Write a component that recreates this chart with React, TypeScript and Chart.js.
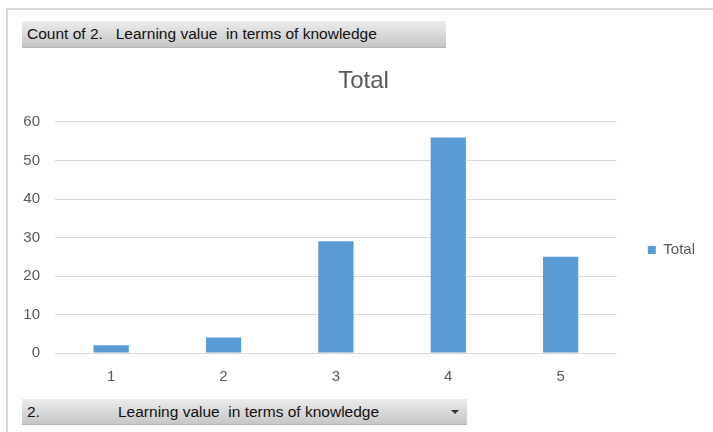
import React, { useEffect, useRef } from "react";
import { Chart, registerables } from "chart.js";

Chart.register(...registerables);

const categories: string[] = ["1", "2", "3", "4", "5"];
const totals: number[] = [2, 4, 29, 56, 25];
const seriesLabel = "Total";
const chartTitle = "Total";
const yTicks: number[] = [0, 10, 20, 30, 40, 50, 60];
const valueFieldLabel = "Count of 2.   Learning value  in terms of knowledge";
const axisFieldPrefix = "2.";
const axisFieldLabel = "Learning value  in terms of knowledge";

const FONT = "'Liberation Sans', Arial, sans-serif";
const GRAY = "#595959";

export default function App() {
  const ref = useRef<HTMLCanvasElement | null>(null);

  useEffect(() => {
    if (!ref.current) return;
    const chart = new Chart(ref.current, {
      type: "bar",
      data: {
        labels: categories,
        datasets: [
          {
            label: seriesLabel,
            data: totals,
            backgroundColor: "#5b9bd5",
            borderWidth: 0,
            barPercentage: 0.314,
            categoryPercentage: 1,
          },
        ],
      },
      options: {
        animation: false,
        responsive: false,
        maintainAspectRatio: false,
        devicePixelRatio: 1,
        layout: { padding: { left: 22, right: 8, top: 0, bottom: 0 } },
        plugins: {
          title: {
            display: true,
            text: chartTitle,
            color: GRAY,
            font: { family: FONT, size: 24, weight: "normal" },
            padding: { top: 66.6, bottom: 26.6 },
          },
          legend: {
            display: true,
            position: "right",
            labels: {
              color: GRAY,
              font: { family: FONT, size: 15 },
              boxWidth: 8,
              boxHeight: 8,
              padding: 31,
            },
          },
          tooltip: { enabled: false },
        },
        scales: {
          x: {
            grid: { display: false, drawTicks: false },
            border: { display: false },
            ticks: {
              color: GRAY,
              font: { family: FONT, size: 15 },
              padding: 15,
            },
            afterFit: (scale: any) => {
              scale.height = 147;
            },
          },
          y: {
            min: 0,
            max: 60,
            afterBuildTicks: (scale: any) => {
              scale.ticks = yTicks.map((v) => ({ value: v }));
            },
            grid: { color: "#d9d9d9", lineWidth: 1, drawTicks: false },
            border: { display: false },
            ticks: {
              color: GRAY,
              font: { family: FONT, size: 15 },
              padding: 15,
            },
            afterFit: (scale: any) => {
              scale.width = 33;
            },
          },
        },
      },
    });
    return () => chart.destroy();
  }, []);

  const btn: React.CSSProperties = {
    position: "absolute",
    left: 22,
    background: "linear-gradient(#ececec, #c6c6c6)",
    borderBottom: "1px solid #b5b5b5",
    fontFamily: FONT,
    fontSize: 15.5,
    color: "#111",
    whiteSpace: "pre",
    boxSizing: "border-box",
    display: "flex",
    alignItems: "center",
  };

  return (
    <div
      style={{
        position: "fixed",
        left: 0,
        top: 0,
        width: 713,
        height: 432,
        overflow: "hidden",
        background: "#fff",
      }}
    >
      <canvas
        ref={ref}
        width={713}
        height={500}
        style={{ position: "absolute", left: 0, top: 0, width: 713, height: 500 }}
      />
      <div
        style={{
          position: "absolute",
          left: 6,
          top: 8,
          width: 720,
          height: 440,
          borderLeft: "2px solid #d9d9d9",
          borderTop: "2px solid #d9d9d9",
          pointerEvents: "none",
        }}
      />
      <div style={{ ...btn, top: 21, width: 424, height: 27, paddingLeft: 5 }}>
        {valueFieldLabel}
      </div>
      <div style={{ ...btn, top: 399, width: 445, height: 26, paddingLeft: 5 }}>
        <span>{axisFieldPrefix}</span>
        <span style={{ position: "absolute", left: 96 }}>{axisFieldLabel}</span>
        <span
          style={{
            position: "absolute",
            right: 8,
            top: 11,
            width: 0,
            height: 0,
            borderLeft: "4px solid transparent",
            borderRight: "4px solid transparent",
            borderTop: "4px solid #333",
          }}
        />
      </div>
    </div>
  );
}
